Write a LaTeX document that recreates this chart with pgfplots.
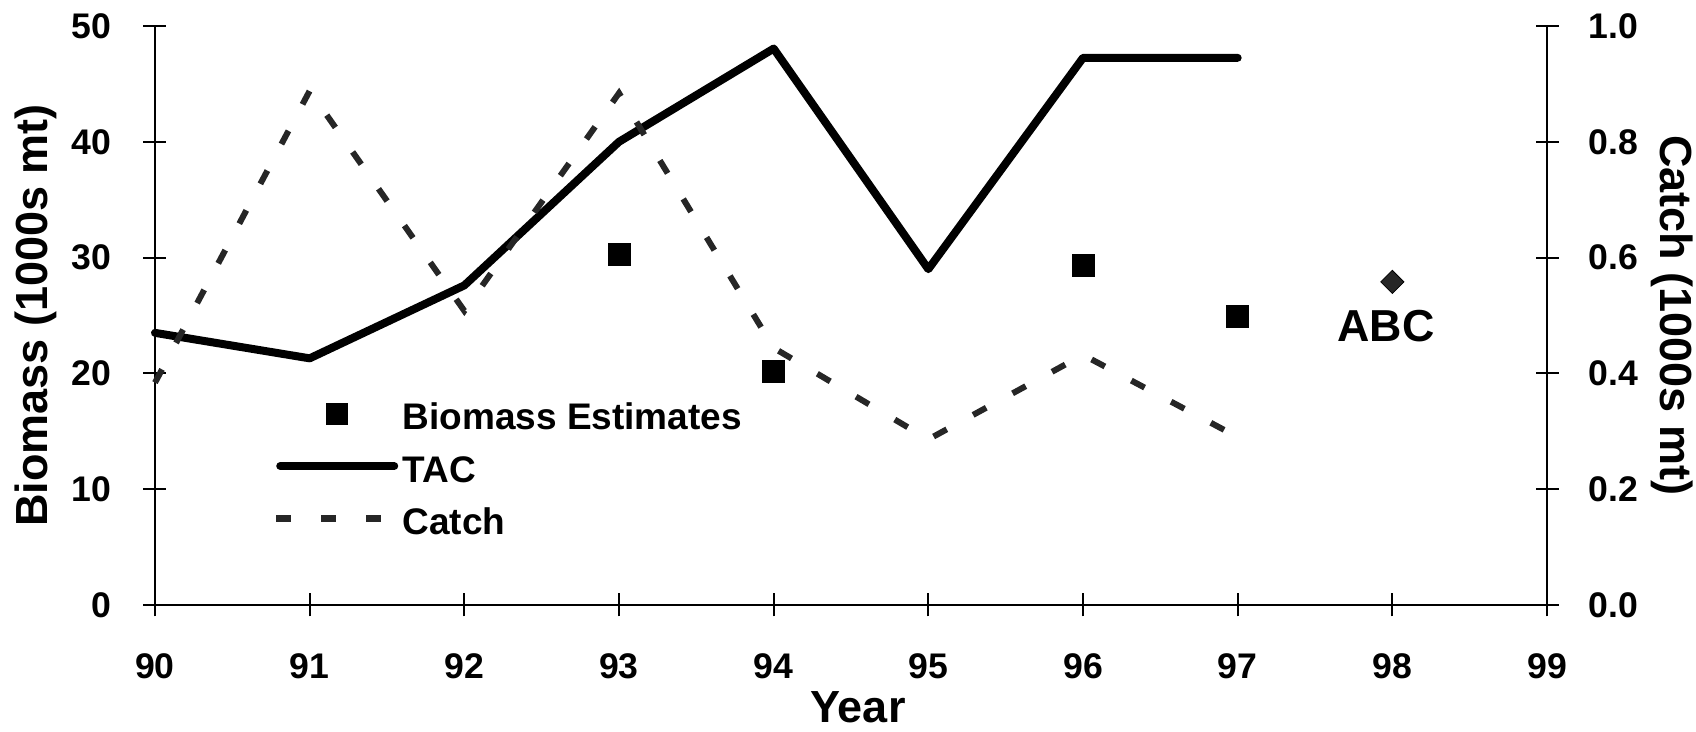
\documentclass[border=0pt]{standalone}
\usepackage{fontspec}
\setmainfont{Liberation Sans}
\usepackage{pgfplots}
\pgfplotsset{compat=1.18}
\newcommand\ticfont{\fontsize{17.8}{20}\selectfont\bfseries}
\newcommand\labfont{\fontsize{22.5}{26}\selectfont\bfseries}
\newcommand\legfont{\fontsize{18.5}{22}\selectfont\bfseries}
\newcommand\abcfont{\fontsize{22.4}{26}\selectfont\bfseries}
\pgfplotsset{
  common/.style={
    scale only axis, width=696pt, height=289.5pt,
    at={(0pt,0pt)}, anchor=south west,
    xmin=90, xmax=99,
    tick align=center, major tick length=11.5pt,
    tick style={line width=1pt, black},
    /pgf/number format/assume math mode=true,
    clip=false,
  },
  noarrows/.style={
    axis line style={line width=1pt, -},
    every outer x axis line/.append style={-},
    every outer y axis line/.append style={-},
    every inner x axis line/.append style={-},
    every inner y axis line/.append style={-},
  }
}
\begin{document}
\begin{tikzpicture}[x=1pt,y=1pt]
\useasboundingbox (-77.5,-63.5) rectangle (770.5,302.5);
% left axis: biomass
\begin{axis}[common,
  ymin=0, ymax=50,
  axis x line=bottom, axis y line=left, noarrows,
  xtick={90,91,92,93,94,95,96,97,98,99},
  ytick={0,10,20,30,40,50},
  xticklabel style={font=\ticfont, anchor=north, inner sep=0pt, yshift=-18.5pt},
  yticklabel style={font=\ticfont, anchor=east, inner sep=0pt, xshift=-16pt},
  xlabel={Year},
  ylabel={Biomass (1000s mt)},
  every axis x label/.style={at={(axis description cs:0.505,-0.2038)}, anchor=base, font=\labfont, inner sep=0pt},
  every axis y label/.style={at={(axis description cs:-0.0769,0.5)}, anchor=base, rotate=90, font=\labfont, inner sep=0pt},
]
\addplot[only marks, mark=square*, mark size=5.5pt, black] coordinates {
  (93,30.3) (94,20.2) (96,29.3) (97,24.9)
};
\end{axis}
% right axis: catch
\begin{axis}[common,
  ymin=0, ymax=1,
  axis x line=none, axis y line=right, noarrows,
  ytick={0,0.2,0.4,0.6,0.8,1},
  yticklabel style={font=\ticfont, anchor=west, inner sep=0pt, xshift=15pt,
    /pgf/number format/fixed, /pgf/number format/fixed zerofill, /pgf/number format/precision=1},
  ylabel={Catch (1000s mt)},
  every axis y label/.style={at={(axis description cs:1.0812,0.5)}, anchor=base, rotate=-90, font=\labfont, inner sep=0pt},
  legend cell align=left,
  legend style={at={(axis description cs:0.0848,0.3582)}, anchor=north west,
    draw=none, fill=none, inner sep=0pt, outer sep=0pt, font=\legfont,
    row sep=10.25pt,
    nodes={inner sep=0pt, text height=16pt, text depth=0pt},
    /tikz/every odd column/.append style={column sep=2.2pt}},
]
\addlegendimage{legend image code/.code={
  \path[draw=none, fill=none] (0pt,-5.5pt) rectangle (61pt,5.5pt);
  \fill[black, draw=none] (25pt,-5.5pt) rectangle (36pt,5.5pt);}}
\addlegendentry{Biomass Estimates}
\addlegendimage{legend image code/.code={
  \path[draw=none, fill=none] (0pt,-5.5pt) rectangle (61pt,5.5pt);
  \draw[black, line width=4pt, line cap=round] (2pt,0pt) -- (59pt,0pt);}}
\addlegendentry{TAC}
\addlegendimage{legend image code/.code={
  \path[draw=none, fill=none] (0pt,-5.5pt) rectangle (61pt,5.5pt);
  \draw[black!85, line width=3.2pt, dash pattern=on 7.5pt off 15pt] (0pt,0pt) -- (52.5pt,0pt);}}
\addlegendentry{Catch}
% TAC
\addplot[forget plot, black, line width=4pt, line join=round, line cap=round] coordinates {
  (90,0.470) (91,0.426) (92,0.552) (93,0.800) (94,0.961) (95,0.580) (96,0.945) (97,0.945)
};
% Catch
\addplot[forget plot, black!85, line width=3pt, dash pattern=on 7.5pt off 15pt] coordinates {
  (90,0.384) (91,0.888) (92,0.508) (93,0.884) (94,0.444) (95,0.286) (96,0.432) (97,0.290)
};
% ABC
\addplot[forget plot, only marks, mark=square*, mark size=4.1pt, mark options={rotate=45, fill=black!85, draw=black}] coordinates {
  (98,0.558)
};
\node[font=\abcfont, inner sep=0pt] at (axis cs:97.96,0.482) {ABC};
\end{axis}
\end{tikzpicture}
\end{document}
